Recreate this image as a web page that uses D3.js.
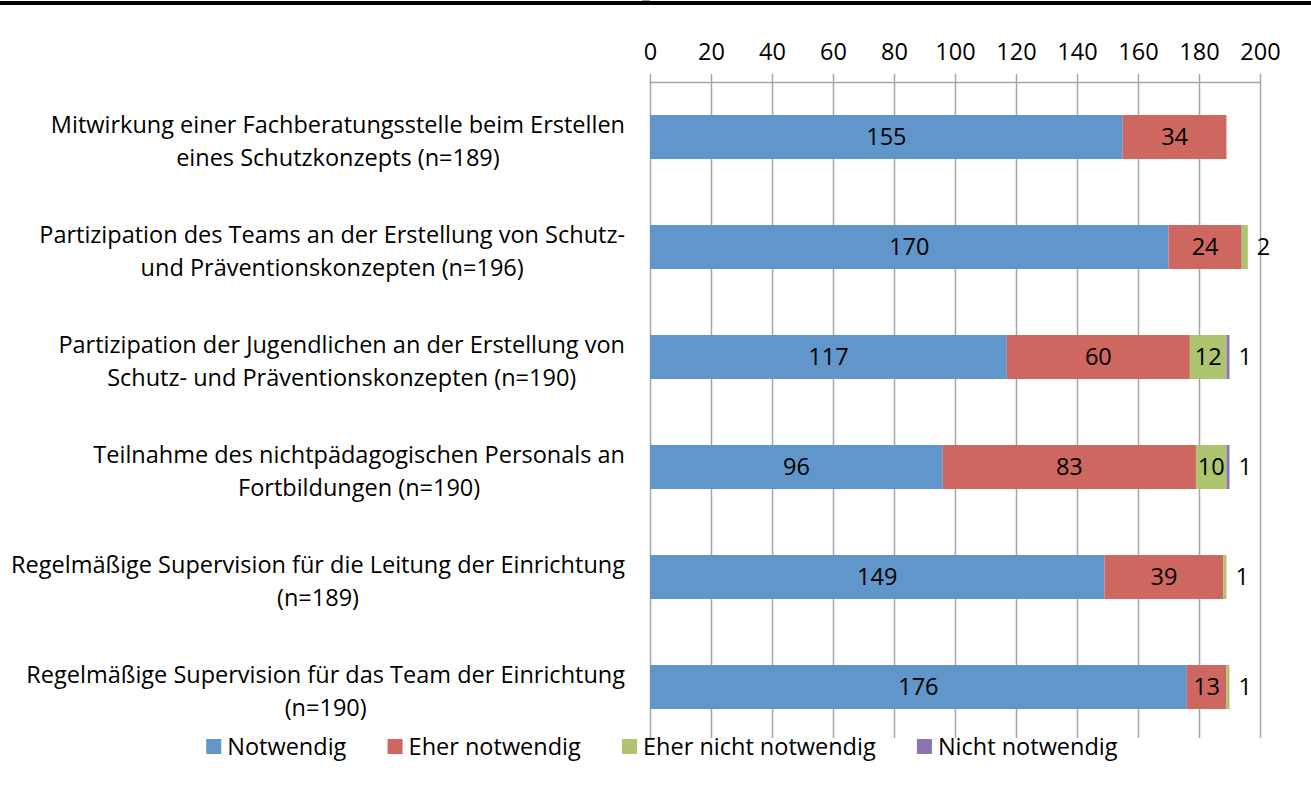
<!DOCTYPE html>
<html>
<head>
<meta charset="utf-8">
<script src="https://cdn.jsdelivr.net/npm/d3@7"></script>
<style>
  body { margin: 0; background: #fff; }
  svg text { font-family: "Open Sans", sans-serif; fill: #000; }
</style>
</head>
<body>
<div class="chart"></div>
<script>
// data
var categories = [
  ["Mitwirkung einer Fachberatungsstelle beim Erstellen", "eines Schutzkonzepts (n=189)"],
  ["Partizipation des Teams an der Erstellung von Schutz-", "und Präventionskonzepten (n=196)"],
  ["Partizipation der Jugendlichen an der Erstellung von", "Schutz- und Präventionskonzepten (n=190)"],
  ["Teilnahme des nichtpädagogischen Personals an", "Fortbildungen (n=190)"],
  ["Regelmäßige Supervision für die Leitung der Einrichtung", "(n=189)"],
  ["Regelmäßige Supervision für das Team der Einrichtung", "(n=190)"]
];
var seriesNames = ["Notwendig", "Eher notwendig", "Eher nicht notwendig", "Nicht notwendig"];
var notwendig          = [155, 170, 117, 96, 149, 176];
var eherNotwendig      = [34, 24, 60, 83, 39, 13];
var eherNichtNotwendig = [0, 2, 12, 10, 1, 1];
var nichtNotwendig     = [0, 0, 1, 1, 0, 0];
var tickValues = [0, 20, 40, 60, 80, 100, 120, 140, 160, 180, 200];

var colors = ["#6096C9", "#CE6760", "#ADC56F", "#8C74B0"];

var W = 1311, H = 787;
var svg = d3.select(".chart").append("svg")
  .attr("width", W).attr("height", H);

// black rule at the very top
svg.append("rect").attr("x", 0).attr("y", 1).attr("width", W).attr("height", 4).attr("fill", "#000");

var keys = categories.map(function(d, i) { return "c" + i; });
var rows = keys.map(function(k, i) {
  return { key: k, label: categories[i],
           values: [notwendig[i], eherNotwendig[i], eherNichtNotwendig[i], nichtNotwendig[i]] };
});

var x = d3.scaleLinear().domain([0, 200]).range([650, 1260]);
var y = d3.scaleBand().domain(keys).range([82, 742]).paddingInner(0.6).paddingOuter(0.3);

var gridColor = "#A6A6A6";
var fs = 23.5;

// gridlines
svg.append("g")
  .attr("transform", "translate(0,82)")
  .call(d3.axisTop(x).tickValues(tickValues).tickSize(-656).tickFormat(""))
  .call(function(g) {
    g.select(".domain").remove();
    g.selectAll("line").attr("stroke", gridColor).attr("stroke-width", 1.5);
  });

// top axis
svg.append("g")
  .attr("transform", "translate(0,82)")
  .call(d3.axisTop(x).tickValues(tickValues).tickSize(8).tickSizeOuter(0).tickPadding(14))
  .call(function(g) {
    g.select(".domain").attr("stroke", gridColor).attr("stroke-width", 1.5);
    g.selectAll("line").attr("stroke", gridColor).attr("stroke-width", 1.5);
    g.selectAll("text").attr("font-size", fs).attr("fill", "#000").attr("dy", "0");
  });

// left axis line and category ticks
var step = y.step(), top = y.range()[0];
svg.append("line").attr("x1", x(0)).attr("x2", x(0))
  .attr("y1", top).attr("y2", top + step * keys.length)
  .attr("stroke", gridColor).attr("stroke-width", 1.5);
svg.selectAll(".ytick").data(d3.range(keys.length + 1)).enter().append("line")
  .attr("class", "ytick")
  .attr("x1", x(0) - 8).attr("x2", x(0))
  .attr("y1", function(i) { return top + i * step; })
  .attr("y2", function(i) { return top + i * step; })
  .attr("stroke", gridColor).attr("stroke-width", 1.5);

// bars
var row = svg.selectAll(".row").data(rows).enter().append("g").attr("class", "row");

row.each(function(r) {
  var g = d3.select(this);
  var cum = 0;
  var yc = y(r.key) + y.bandwidth() / 2;
  r.values.forEach(function(v, j) {
    if (v > 0) {
      g.append("rect")
        .attr("x", x(cum))
        .attr("y", y(r.key))
        .attr("width", x(cum + v) - x(cum))
        .attr("height", y.bandwidth())
        .attr("fill", colors[j]);
    }
    cum += v;
  });
  // value labels; tiny segments get theirs to the right of the bar
  cum = 0;
  var total = d3.sum(r.values);
  r.values.forEach(function(v, j) {
    if (v > 0) {
      var small = v < 5;
      g.append("text")
        .attr("x", small ? x(total) + 9 : (x(cum) + x(cum + v)) / 2)
        .attr("y", yc)
        .attr("dy", "0.36em")
        .attr("text-anchor", small ? "start" : "middle")
        .attr("font-size", fs)
        .text(v);
    }
    cum += v;
  });
  // category label, centered block with right edge at 625
  var lab = g.append("text").attr("font-size", fs).attr("text-anchor", "middle");
  lab.selectAll("tspan").data(r.label).enter().append("tspan")
    .attr("x", 0)
    .attr("y", function(d, i) { return yc - 4 + i * 33; })
    .text(function(d) { return d; });
  var wmax = d3.max(lab.selectAll("tspan").nodes(), function(n) { return n.getComputedTextLength(); });
  lab.attr("transform", "translate(" + (625 - wmax / 2) + ",0)");
});

// legend
var legend = svg.append("g").attr("class", "legend");
var item = legend.selectAll("g").data(seriesNames).enter().append("g");
item.append("rect").attr("width", 15).attr("height", 15).attr("y", -8)
  .attr("fill", function(d, i) { return colors[i]; });
item.append("text").attr("x", 21).attr("dy", "0.36em").attr("font-size", fs)
  .text(function(d) { return d; });
var gap = 41;
var pos = 0;
item.each(function() {
  d3.select(this).attr("transform", "translate(" + pos + ",0)");
  pos += this.getBBox().width + gap;
});
var legendW = pos - gap;
legend.attr("transform", "translate(" + (662 - legendW / 2) + ",747)");
</script>
</body>
</html>
